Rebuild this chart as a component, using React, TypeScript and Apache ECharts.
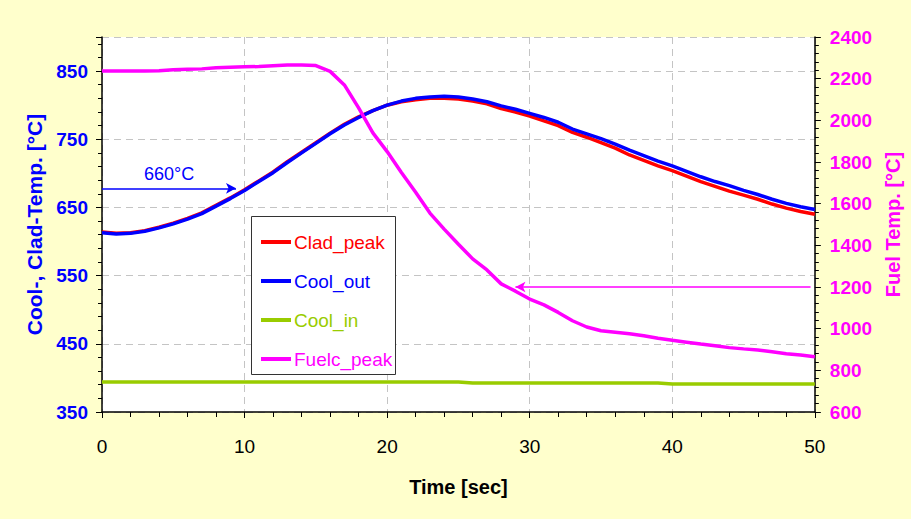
import React, { useEffect, useRef } from "react";
import * as echarts from "echarts";

// ---- data ----
const TIME = [
  0, 1, 2, 3, 4, 5, 6, 7, 8, 9, 10, 11, 12, 13, 14, 15, 16, 17, 18, 19, 20,
  21, 22, 23, 24, 25, 26, 27, 28, 29, 30, 31, 32, 33, 34, 35, 36, 37, 38, 39,
  40, 41, 42, 43, 44, 45, 46, 47, 48, 49, 50,
];

const CLAD_PEAK = [
  614, 612, 613, 616, 621, 627, 634, 642, 653, 664, 676, 689, 702, 717, 731,
  745, 759, 772, 783, 792, 800, 805, 808, 810, 810, 809, 806, 802, 795, 790,
  784, 777, 770, 760, 753, 745, 737, 727, 719, 711, 704, 696, 688, 681, 674,
  668, 662, 655, 649, 644, 640,
];

const COOL_OUT = [
  613, 611, 612, 615, 620, 626, 633, 641, 652, 663, 675, 688, 701, 716, 730,
  744, 758, 771, 782, 792, 800, 806, 810, 812, 813, 812, 809, 805, 799, 794,
  788, 782, 775, 765, 758, 751, 743, 734, 726, 718, 711, 703, 695, 688, 682,
  675, 669, 662, 656, 651, 647,
];

const COOL_IN = [
  394, 394, 394, 394, 394, 394, 394, 394, 394, 394, 394, 394, 394, 394, 394,
  394, 394, 394, 394, 394, 394, 394, 394, 394, 394, 394, 392.5, 392.5, 392.5,
  392.5, 392.5, 392.5, 392.5, 392.5, 392.5, 392.5, 392.5, 392.5, 392.5, 392.5,
  391, 391, 391, 391, 391, 391, 391, 391, 391, 391, 391,
];

const FUELC_PEAK = [
  2237, 2237, 2237, 2237, 2238, 2243, 2245, 2247, 2252, 2255, 2257, 2258,
  2262, 2266, 2266, 2263, 2235, 2170, 2060, 1940, 1850, 1750, 1655, 1555,
  1478, 1405, 1335, 1282, 1215, 1180, 1142, 1114, 1078, 1038, 1008, 990, 983,
  976, 966, 954, 944, 935, 926, 918, 909, 903, 898, 889, 880, 874, 865,
];

const SERIES_NAMES = ["Clad_peak", "Cool_out", "Cool_in", "Fuelc_peak"];
const COLORS = ["#FF0000", "#0000FF", "#99CC00", "#FF00FF"];

const LEFT_TICKS = { min: 350, max: 900, interval: 100 };
const RIGHT_TICKS = { min: 600, max: 2400, interval: 200 };
const X_TICKS = { min: 0, max: 50, interval: 10 };

// annotation arrows
const BLUE_ARROW = { fromT: 0, toT: 9.4, value: 678, label: "660°C" };
const PINK_ARROW = { fromT: 49.7, toT: 29, value: 1200 };

const X_NAME = "Time [sec]";
const LEFT_NAME = "Cool-, Clad-Temp. [°C]";
const RIGHT_NAME = "Fuel Temp. [°C]";

const pairs = (ys: number[]) => TIME.map((t, i) => [t, ys[i]]);

export default function App() {
  const ref = useRef<HTMLDivElement>(null);

  useEffect(() => {
    document.documentElement.style.overflow = "hidden";
    document.body.style.margin = "0";
    document.body.style.overflow = "hidden";
    if (!ref.current) return;
    const chart = echarts.init(ref.current, null, { renderer: "svg", width: 911, height: 519 });

    const narrow = '"Liberation Sans Narrow", "Arial Narrow", "Liberation Sans", Arial, sans-serif';
    const sans = '"Liberation Sans", Arial, sans-serif';
    const gridLine = { show: true, lineStyle: { color: "#c4c4c4", type: [7, 5] as any, width: 1 } };

    const lineSeries = (idx: number, ys: number[], yAxisIndex: number, extra: any = {}) => ({
      name: SERIES_NAMES[idx],
      type: "line",
      yAxisIndex,
      data: pairs(ys),
      showSymbol: false,
      symbol: "none",
      smooth: false,
      lineStyle: { color: COLORS[idx], width: 3.5 },
      itemStyle: { color: COLORS[idx] },
      z: 3,
      ...extra,
    });

    chart.setOption({
      animation: false,
      backgroundColor: "#FFFFCC",
      grid: {
        left: 102,
        right: 86,
        top: 37,
        bottom: 107,
        show: true,
        backgroundColor: "#FFFFFF",
        borderWidth: 0,
      },
      legend: {
        orient: "vertical",
        left: 256,
        top: 227,
        icon: "rect",
        itemWidth: 30,
        itemHeight: 4,
        itemGap: 19,
        selectedMode: false,
        z: 10,
        textStyle: { fontFamily: sans, fontSize: 19, lineHeight: 20, padding: [0, 0, 0, -2] },
        data: SERIES_NAMES.map((n, i) => ({ name: n, textStyle: { color: COLORS[i] } })),
      },
      graphic: [
        {
          type: "rect",
          left: 251,
          top: 216,
          shape: { width: 144, height: 158 },
          style: { fill: "#FFFFFF", stroke: "#333333", lineWidth: 1 },
          z: 5,
        },
      ],
      xAxis: {
        type: "value",
        min: X_TICKS.min,
        max: X_TICKS.max,
        interval: X_TICKS.interval,
        name: X_NAME,
        nameLocation: "middle",
        nameGap: 65,
        nameTextStyle: { fontFamily: narrow, fontSize: 20, fontWeight: "bold", color: "#000" },
        axisLine: { show: true, lineStyle: { color: "#000", width: 1.5 } },
        axisTick: { show: true, length: 6, lineStyle: { color: "#000" } },
        minorTick: { show: true, splitNumber: 5, length: 5, lineStyle: { color: "#000" } },
        axisLabel: { fontFamily: narrow, fontSize: 19, color: "#000", margin: 25 },
        splitLine: gridLine,
      },
      yAxis: [
        {
          type: "value",
          position: "left",
          min: LEFT_TICKS.min,
          max: LEFT_TICKS.max,
          interval: LEFT_TICKS.interval,
          name: LEFT_NAME,
          nameLocation: "middle",
          nameRotate: 90,
          nameGap: 56,
          nameTextStyle: { fontFamily: sans, fontSize: 21, fontWeight: "bold", color: "#0000FF" },
          axisLine: { show: true, lineStyle: { color: "#000", width: 1.5 } },
          axisTick: { show: true, length: 6, lineStyle: { color: "#000" } },
          minorTick: { show: true, splitNumber: 5, length: 4, lineStyle: { color: "#000" } },
          axisLabel: {
            fontFamily: sans,
            fontSize: 19,
            fontWeight: "bold",
            color: "#0000FF",
            margin: 14,
            showMaxLabel: false,
          },
          splitLine: gridLine,
        },
        {
          type: "value",
          position: "right",
          min: RIGHT_TICKS.min,
          max: RIGHT_TICKS.max,
          interval: RIGHT_TICKS.interval,
          name: RIGHT_NAME,
          nameLocation: "middle",
          nameRotate: 90,
          nameGap: 66,
          nameTextStyle: { fontFamily: sans, fontSize: 20, fontWeight: "bold", color: "#FF00FF" },
          axisLine: { show: true, lineStyle: { color: "#000", width: 1.5 } },
          axisTick: { show: true, length: 6, lineStyle: { color: "#000" } },
          minorTick: { show: true, splitNumber: 5, length: 4, lineStyle: { color: "#000" } },
          axisLabel: {
            fontFamily: sans,
            fontSize: 19,
            fontWeight: "bold",
            color: "#FF00FF",
            margin: 15,
            formatter: (v: number) => String(v),
          },
          splitLine: { show: false },
        },
      ],
      series: [
        lineSeries(0, CLAD_PEAK, 0),
        lineSeries(1, COOL_OUT, 0, {
          markLine: {
            silent: true,
            symbol: ["none", "arrow"],
            symbolSize: [8, 10],
            lineStyle: { color: "#0000FF", width: 1.5, type: "solid" },
            label: {
              show: true,
              position: "middle",
              formatter: BLUE_ARROW.label,
              color: "#0000FF",
              fontFamily: sans,
              fontSize: 18,
              distance: 5,
            },
            emphasis: { disabled: true },
            data: [[{ coord: [BLUE_ARROW.fromT, BLUE_ARROW.value] }, { coord: [BLUE_ARROW.toT, BLUE_ARROW.value] }]],
          },
        }),
        lineSeries(2, COOL_IN, 0),
        lineSeries(3, FUELC_PEAK, 1, {
          markLine: {
            silent: true,
            symbol: ["none", "arrow"],
            symbolSize: [8, 10],
            lineStyle: { color: "#FF00FF", width: 1.5, type: "solid" },
            label: { show: false },
            emphasis: { disabled: true },
            data: [[{ coord: [PINK_ARROW.fromT, PINK_ARROW.value] }, { coord: [PINK_ARROW.toT, PINK_ARROW.value] }]],
          },
        }),
      ],
    });

    return () => chart.dispose();
  }, []);

  return (
    <div
      ref={ref}
      style={{ position: "fixed", left: 0, top: 0, width: 911, height: 519 }}
    />
  );
}
